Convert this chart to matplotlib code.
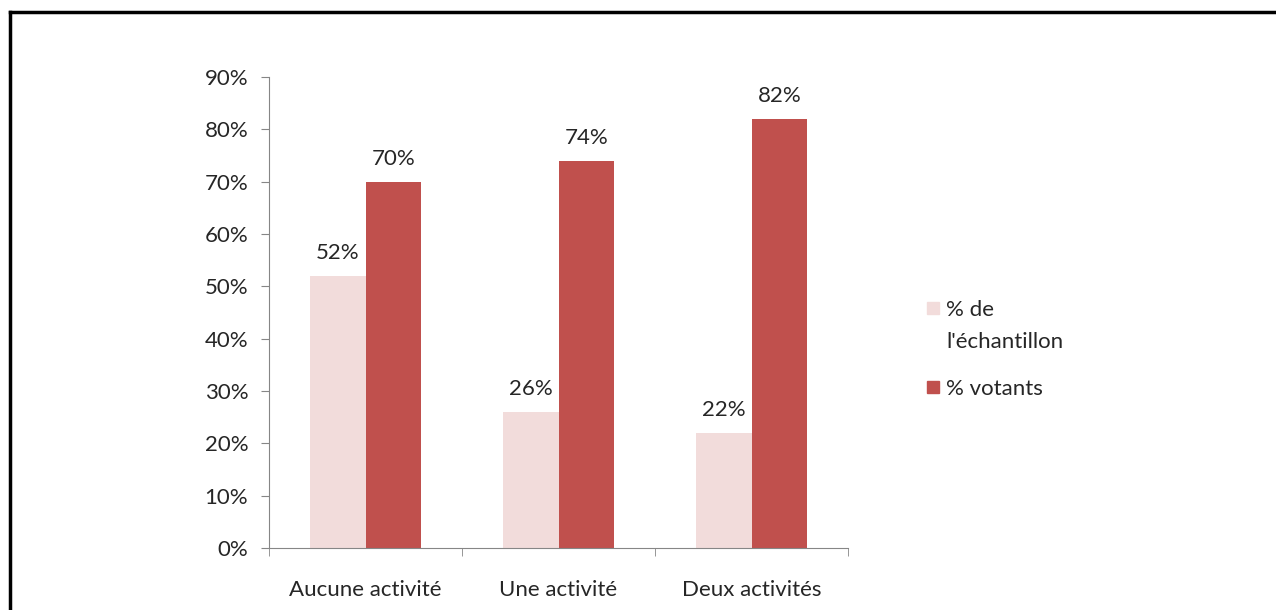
import numpy as np
import matplotlib.pyplot as plt
from matplotlib.patches import Rectangle

plt.rcParams['font.family'] = ['Lato', 'DejaVu Sans']

categories = ['Aucune activité', 'Une activité', 'Deux activités']
echantillon = [52, 26, 22]
votants = [70, 74, 82]
series_names = ["% de\nl'échantillon", '% votants']

light = '#F2DCDB'
dark = '#C0504D'
grey = '#868686'
txt = '#262626'
fs = 16

fig = plt.figure(figsize=(12.76, 6.10), dpi=100, facecolor='white')
W, H = 1276, 610
ax = fig.add_axes([269 / W, 1 - 548 / H, (848 - 269) / W, (548 - 77) / H])

x = np.arange(len(categories))
w = 0.29
b1 = ax.bar(x - w / 2, echantillon, w, color=light)
b2 = ax.bar(x + w / 2, votants, w, color=dark)

for bars, vals in ((b1, echantillon), (b2, votants)):
    for r, v in zip(bars, vals):
        ax.annotate('%d%%' % v, (r.get_x() + r.get_width() / 2, v),
                    xytext=(0, 9), textcoords='offset points',
                    ha='center', va='bottom', fontsize=fs, color=txt)

ax.set_xlim(-0.5, len(categories) - 0.5)
ax.set_ylim(0, 90)
ax.set_yticks(np.arange(0, 91, 10))
ax.set_yticklabels(['%d%%' % v for v in range(0, 91, 10)])
ax.set_xticks(x)
ax.set_xticklabels(categories)
ax.set_xticks(np.arange(-0.5, len(categories), 1), minor=True)
ax.tick_params(axis='x', which='major', length=0, pad=23, labelsize=fs, labelcolor=txt)
ax.tick_params(axis='x', which='minor', length=6, color=grey, direction='out')
ax.tick_params(axis='y', length=6, color=grey, pad=9, labelsize=fs, labelcolor=txt)

for s in ('top', 'right'):
    ax.spines[s].set_visible(False)
for s in ('left', 'bottom'):
    ax.spines[s].set_color(grey)

# legend drawn by hand, to get the wrapped label spacing
colors = [light, dark]
label_y = [308, 387]
for name, c, yy in zip(series_names, colors, label_y):
    fig.add_artist(Rectangle((927 / W, 1 - (yy + 6) / H), 12 / W, 12 / H,
                             color=c, transform=fig.transFigure))
    fig.text(946 / W, 1 - (yy - 8) / H, name, ha='left', va='top',
             fontsize=fs, color=txt, linespacing=1.75)

# frame lines top and left
fig.add_artist(plt.Line2D([10 / W, 1], [1 - 12 / H, 1 - 12 / H], color='black', lw=2.5))
fig.add_artist(plt.Line2D([10 / W, 10 / W], [0, 1 - 12 / H], color='black', lw=2.5))

fig.savefig('out.png', dpi=100, facecolor='white')
